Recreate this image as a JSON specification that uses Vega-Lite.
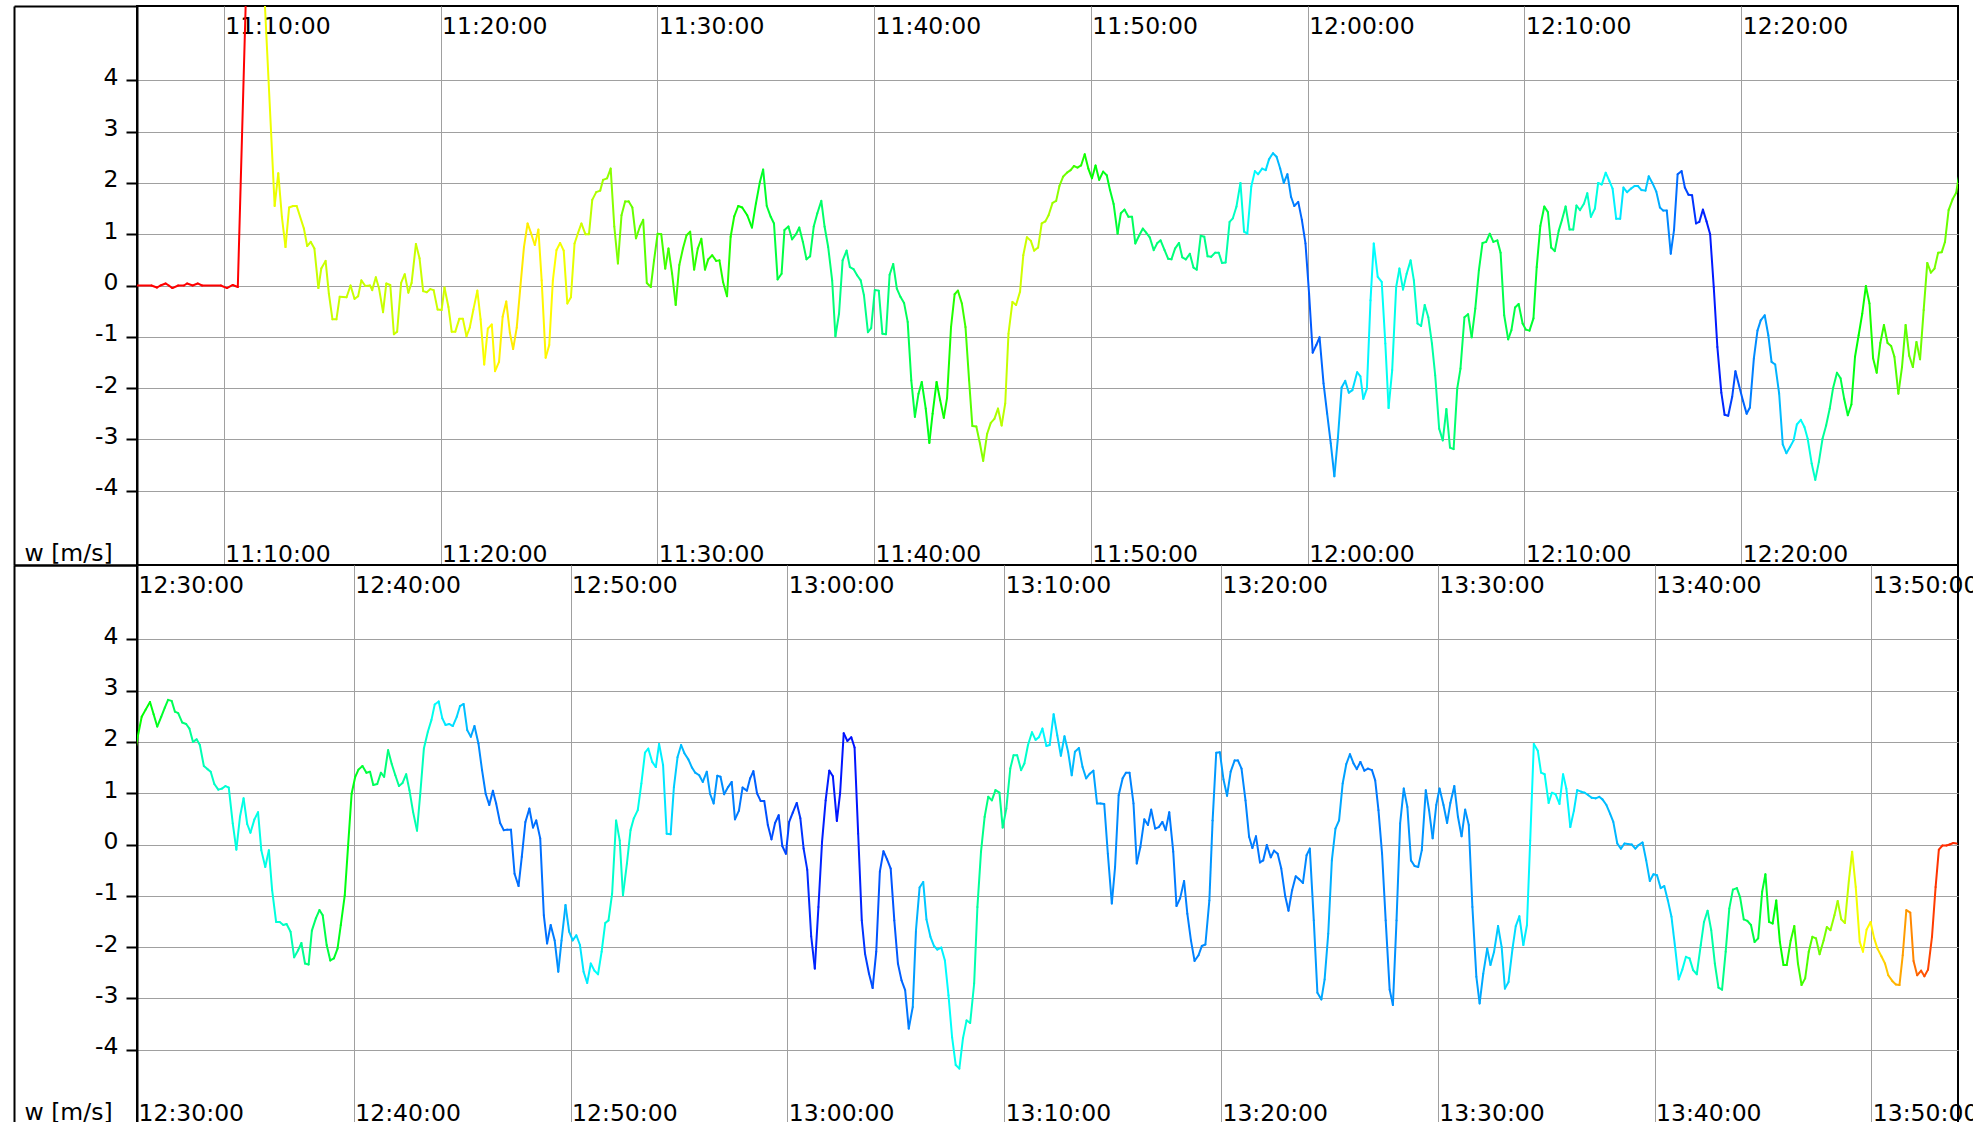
{
"$schema": "https://vega.github.io/schema/vega-lite/v6.json",
"padding": {"left": 12, "top": 4, "right": 0, "bottom": 0},
"autosize": {"type": "pad"},
"background": "white",
"config": {
  "font": "DejaVu Sans",
  "view": {"stroke": "black", "strokeWidth": 2},
  "concat": {"spacing": 0}
},
"data": {"format": {"parse": {"t": "date:'%H:%M:%S'"}}, "values": [
{"t":"11:06:00","w":0,"h":0},{"t":"11:06:40","w":0,"h":0},{"t":"11:06:55","w":-0.04,"h":0},{"t":"11:07:05","w":0,"h":0},{"t":"11:07:19","w":0.04,"h":0},{"t":"11:07:28","w":0,"h":0},{"t":"11:07:38","w":-0.05,"h":0},{"t":"11:07:54","w":0,"h":0},{"t":"11:08:10","w":0,"h":0},{"t":"11:08:19","w":0.04,"h":0},{"t":"11:08:34","w":0,"h":0},{"t":"11:08:48","w":0.04,"h":0},{"t":"11:09:00","w":0,"h":0},{"t":"11:09:52","w":0,"h":0},{"t":"11:10:09","w":-0.05,"h":0},{"t":"11:10:25","w":0.01,"h":0},{"t":"11:10:39","w":-0.03,"h":0},{"t":"11:11:10","w":7.8,"h":30},{"t":"11:11:40","w":7.5,"h":64},
{"t":"11:12:21","w":1.55,"h":65},{"t":"11:12:31","w":2.19,"h":65},{"t":"11:12:41","w":1.34,"h":65},{"t":"11:12:51","w":0.75,"h":65},{"t":"11:13:01","w":1.52,"h":66},{"t":"11:13:12","w":1.55,"h":67},{"t":"11:13:22","w":1.55,"h":68},{"t":"11:13:42","w":1.11,"h":70},{"t":"11:13:51","w":0.77,"h":72},{"t":"11:14:01","w":0.85,"h":73},{"t":"11:14:11","w":0.72,"h":73},{"t":"11:14:22","w":-0.05,"h":73},{"t":"11:14:30","w":0.33,"h":73},{"t":"11:14:42","w":0.48,"h":73},{"t":"11:14:51","w":-0.16,"h":73},{"t":"11:15:01","w":-0.66,"h":73},{"t":"11:15:12","w":-0.66,"h":73},{"t":"11:15:21","w":-0.22,"h":73},{"t":"11:15:40","w":-0.23,"h":73},{"t":"11:15:51","w":0,"h":73},{"t":"11:16:02","w":-0.26,"h":73},{"t":"11:16:12","w":-0.21,"h":73},{"t":"11:16:21","w":0.1,"h":73},{"t":"11:16:32","w":-0.01,"h":73},{"t":"11:16:45","w":0,"h":73},{"t":"11:16:51","w":-0.09,"h":73},{"t":"11:17:01","w":0.16,"h":73},{"t":"11:17:10","w":-0.06,"h":73},{"t":"11:17:21","w":-0.52,"h":73},{"t":"11:17:30","w":0.04,"h":73},{"t":"11:17:41","w":0.01,"h":73},{"t":"11:17:51","w":-0.95,"h":73},{"t":"11:18:00","w":-0.9,"h":73},{"t":"11:18:11","w":0.05,"h":73},{"t":"11:18:21","w":0.22,"h":73},{"t":"11:18:31","w":-0.14,"h":73},{"t":"11:18:40","w":0.05,"h":73},{"t":"11:18:52","w":0.81,"h":73},{"t":"11:19:02","w":0.53,"h":73},{"t":"11:19:12","w":-0.11,"h":73},{"t":"11:19:22","w":-0.13,"h":73},{"t":"11:19:32","w":-0.07,"h":73},{"t":"11:19:41","w":-0.09,"h":72},{"t":"11:19:52","w":-0.47,"h":72},{"t":"11:20:03","w":-0.48,"h":71},{"t":"11:20:11","w":-0.04,"h":70},{"t":"11:20:22","w":-0.42,"h":70},{"t":"11:20:31","w":-0.9,"h":69},{"t":"11:20:41","w":-0.9,"h":68},{"t":"11:20:52","w":-0.65,"h":68},{"t":"11:21:02","w":-0.65,"h":67},{"t":"11:21:12","w":-0.99,"h":66},{"t":"11:21:21","w":-0.82,"h":65},{"t":"11:21:31","w":-0.47,"h":64},{"t":"11:21:42","w":-0.1,"h":63},{"t":"11:21:51","w":-0.66,"h":62},{"t":"11:22:01","w":-1.54,"h":61},{"t":"11:22:11","w":-0.84,"h":60},{"t":"11:22:22","w":-0.76,"h":59},{"t":"11:22:31","w":-1.67,"h":58},{"t":"11:22:42","w":-1.49,"h":57},{"t":"11:22:52","w":-0.61,"h":56},{"t":"11:23:02","w":-0.31,"h":56},{"t":"11:23:12","w":-0.92,"h":56},{"t":"11:23:21","w":-1.24,"h":55},{"t":"11:23:31","w":-0.82,"h":55},{"t":"11:23:41","w":-0.03,"h":55},{"t":"11:23:51","w":0.75,"h":56},{"t":"11:24:01","w":1.21,"h":56},{"t":"11:24:10","w":1.03,"h":57},{"t":"11:24:21","w":0.79,"h":57},{"t":"11:24:31","w":1.09,"h":58},{"t":"11:24:40","w":0.1,"h":58},{"t":"11:24:51","w":-1.41,"h":58},{"t":"11:25:01","w":-1.16,"h":59},{"t":"11:25:11","w":0.1,"h":60},{"t":"11:25:21","w":0.69,"h":62},{"t":"11:25:31","w":0.83,"h":63},{"t":"11:25:41","w":0.68,"h":64},{"t":"11:25:51","w":-0.35,"h":65},{"t":"11:26:01","w":-0.23,"h":66},{"t":"11:26:11","w":0.82,"h":68},{"t":"11:26:20","w":1.01,"h":70},{"t":"11:26:30","w":1.21,"h":72},{"t":"11:26:41","w":1,"h":74},{"t":"11:26:51","w":1,"h":76},{"t":"11:27:00","w":1.67,"h":78},{"t":"11:27:11","w":1.82,"h":80},{"t":"11:27:22","w":1.85,"h":82},{"t":"11:27:30","w":2.06,"h":84},{"t":"11:27:41","w":2.09,"h":86},{"t":"11:27:51","w":2.28,"h":88},{"t":"11:28:01","w":1.15,"h":90},{"t":"11:28:11","w":0.43,"h":92},{"t":"11:28:21","w":1.37,"h":93},{"t":"11:28:31","w":1.64,"h":94},{"t":"11:28:41","w":1.64,"h":95},{"t":"11:28:51","w":1.52,"h":96},{"t":"11:29:01","w":0.92,"h":97},{"t":"11:29:12","w":1.15,"h":98},{"t":"11:29:21","w":1.28,"h":99},{"t":"11:29:31","w":0.05,"h":100},{"t":"11:29:42","w":-0.03,"h":101},{"t":"11:29:51","w":0.49,"h":102},{"t":"11:30:01","w":1.01,"h":103},{"t":"11:30:11","w":1,"h":104},{"t":"11:30:22","w":0.33,"h":105},{"t":"11:30:31","w":0.72,"h":106},{"t":"11:30:41","w":0.23,"h":106},{"t":"11:30:51","w":-0.38,"h":107},{"t":"11:31:01","w":0.4,"h":107},{"t":"11:31:11","w":0.72,"h":108},{"t":"11:31:21","w":0.98,"h":108},{"t":"11:31:31","w":1.05,"h":109},{"t":"11:31:42","w":0.31,"h":110},{"t":"11:31:52","w":0.72,"h":110},{"t":"11:32:02","w":0.91,"h":111},{"t":"11:32:12","w":0.31,"h":111},{"t":"11:32:21","w":0.51,"h":112},{"t":"11:32:32","w":0.59,"h":112},{"t":"11:32:43","w":0.48,"h":112},{"t":"11:32:52","w":0.49,"h":112},{"t":"11:33:02","w":0.07,"h":112},{"t":"11:33:13","w":-0.21,"h":112},{"t":"11:33:23","w":0.95,"h":114},{"t":"11:33:33","w":1.35,"h":116},{"t":"11:33:44","w":1.55,"h":118},{"t":"11:33:55","w":1.52,"h":120},{"t":"11:34:09","w":1.37,"h":122},
{"t":"11:34:22","w":1.13,"h":124},{"t":"11:34:33","w":1.6,"h":126},{"t":"11:34:44","w":2.02,"h":128},{"t":"11:34:53","w":2.26,"h":130},{"t":"11:35:03","w":1.55,"h":132},{"t":"11:35:14","w":1.34,"h":133},{"t":"11:35:23","w":1.21,"h":134},{"t":"11:35:33","w":0.12,"h":135},{"t":"11:35:44","w":0.23,"h":136},{"t":"11:35:52","w":1.08,"h":137},{"t":"11:36:03","w":1.15,"h":138},{"t":"11:36:13","w":0.9,"h":139},{"t":"11:36:24","w":1,"h":140},{"t":"11:36:33","w":1.13,"h":140},{"t":"11:36:43","w":0.85,"h":141},{"t":"11:36:53","w":0.51,"h":141},{"t":"11:37:03","w":0.57,"h":142},{"t":"11:37:13","w":1.15,"h":143},{"t":"11:37:23","w":1.41,"h":144},{"t":"11:37:34","w":1.65,"h":145},{"t":"11:37:43","w":1.15,"h":146},{"t":"11:37:53","w":0.75,"h":147},{"t":"11:38:04","w":0.1,"h":148},{"t":"11:38:13","w":-0.99,"h":150},{"t":"11:38:23","w":-0.55,"h":151},{"t":"11:38:33","w":0.49,"h":152},{"t":"11:38:44","w":0.68,"h":152},{"t":"11:38:53","w":0.36,"h":152},{"t":"11:39:03","w":0.32,"h":152},{"t":"11:39:13","w":0.2,"h":152},{"t":"11:39:23","w":0.1,"h":152},{"t":"11:39:32","w":-0.19,"h":152},{"t":"11:39:43","w":-0.91,"h":152},{"t":"11:39:52","w":-0.83,"h":151},{"t":"11:40:02","w":-0.09,"h":150},{"t":"11:40:13","w":-0.1,"h":150},{"t":"11:40:23","w":-0.94,"h":149},{"t":"11:40:33","w":-0.95,"h":148},{"t":"11:40:43","w":0.21,"h":147},{"t":"11:40:53","w":0.42,"h":146},{"t":"11:41:03","w":-0.06,"h":145},{"t":"11:41:13","w":-0.22,"h":143},{"t":"11:41:23","w":-0.34,"h":141},{"t":"11:41:33","w":-0.71,"h":139},{"t":"11:41:43","w":-1.85,"h":136},{"t":"11:41:53","w":-2.56,"h":133},{"t":"11:42:03","w":-2.11,"h":130},{"t":"11:42:12","w":-1.88,"h":128},{"t":"11:42:23","w":-2.4,"h":126},{"t":"11:42:33","w":-3.07,"h":124},{"t":"11:42:42","w":-2.5,"h":122},{"t":"11:42:53","w":-1.88,"h":120},{"t":"11:43:03","w":-2.24,"h":118},{"t":"11:43:13","w":-2.58,"h":116},{"t":"11:43:22","w":-2.19,"h":114},{"t":"11:43:33","w":-0.81,"h":112},{"t":"11:43:43","w":-0.17,"h":110},{"t":"11:43:52","w":-0.1,"h":108},{"t":"11:44:03","w":-0.35,"h":106},{"t":"11:44:13","w":-0.81,"h":104},{"t":"11:44:23","w":-1.85,"h":100},{"t":"11:44:32","w":-2.74,"h":96},{"t":"11:44:43","w":-2.75,"h":92},{"t":"11:44:53","w":-3.08,"h":89},{"t":"11:45:02","w":-3.42,"h":86},{"t":"11:45:13","w":-2.89,"h":84},{"t":"11:45:23","w":-2.68,"h":82},{"t":"11:45:33","w":-2.6,"h":80},{"t":"11:45:43","w":-2.4,"h":78},{"t":"11:45:53","w":-2.73,"h":76},{"t":"11:46:03","w":-2.3,"h":74},{"t":"11:46:12","w":-0.94,"h":72},{"t":"11:46:23","w":-0.32,"h":71},{"t":"11:46:33","w":-0.38,"h":71},{"t":"11:46:44","w":-0.12,"h":71},{"t":"11:46:53","w":0.59,"h":72},{"t":"11:47:03","w":0.94,"h":72},{"t":"11:47:14","w":0.87,"h":73},{"t":"11:47:23","w":0.68,"h":74},{"t":"11:47:34","w":0.74,"h":75},{"t":"11:47:44","w":1.21,"h":77},{"t":"11:47:54","w":1.25,"h":79},{"t":"11:48:03","w":1.37,"h":81},{"t":"11:48:14","w":1.61,"h":84},{"t":"11:48:24","w":1.65,"h":87},{"t":"11:48:33","w":1.94,"h":90},{"t":"11:48:43","w":2.12,"h":94},{"t":"11:48:54","w":2.2,"h":98},{"t":"11:49:04","w":2.25,"h":102},{"t":"11:49:13","w":2.33,"h":106},{"t":"11:49:23","w":2.3,"h":110},{"t":"11:49:33","w":2.34,"h":113},{"t":"11:49:43","w":2.56,"h":116},{"t":"11:49:53","w":2.28,"h":118},{"t":"11:50:03","w":2.09,"h":120},{"t":"11:50:13","w":2.34,"h":122},{"t":"11:50:23","w":2.06,"h":124},{"t":"11:50:34","w":2.22,"h":126},{"t":"11:50:44","w":2.15,"h":128},{"t":"11:50:53","w":1.86,"h":130},{"t":"11:51:03","w":1.59,"h":132},{"t":"11:51:14","w":1.01,"h":134},{"t":"11:51:23","w":1.41,"h":136},{"t":"11:51:33","w":1.48,"h":138},{"t":"11:51:44","w":1.34,"h":140},{"t":"11:51:54","w":1.34,"h":142},{"t":"11:52:03","w":0.82,"h":143},{"t":"11:52:14","w":0.98,"h":144},{"t":"11:52:24","w":1.11,"h":145},{"t":"11:52:33","w":1.03,"h":146},{"t":"11:52:43","w":0.94,"h":147},{"t":"11:52:54","w":0.69,"h":148},{"t":"11:53:04","w":0.83,"h":148},{"t":"11:53:13","w":0.88,"h":148},{"t":"11:53:24","w":0.69,"h":148},{"t":"11:53:34","w":0.52,"h":148},{"t":"11:53:43","w":0.51,"h":148},{"t":"11:53:53","w":0.72,"h":148},{"t":"11:54:04","w":0.83,"h":149},{"t":"11:54:13","w":0.55,"h":149},{"t":"11:54:23","w":0.51,"h":149},{"t":"11:54:34","w":0.62,"h":150},{"t":"11:54:44","w":0.35,"h":150},{"t":"11:54:53","w":0.31,"h":150},{"t":"11:55:04","w":0.97,"h":151},{"t":"11:55:14","w":0.95,"h":152},{"t":"11:55:23","w":0.57,"h":153},{"t":"11:55:33","w":0.56,"h":154},{"t":"11:55:44","w":0.64,"h":155},{"t":"11:55:54","w":0.64,"h":156},{"t":"11:56:03","w":0.44,"h":158},{"t":"11:56:13","w":0.45,"h":160},{"t":"11:56:24","w":1.24,"h":163},{"t":"11:56:33","w":1.31,"h":166},{"t":"11:56:43","w":1.54,"h":169},{"t":"11:56:54","w":2,"h":172},{"t":"11:57:04","w":1.05,"h":175},{"t":"11:57:13","w":1.01,"h":177},{"t":"11:57:24","w":1.93,"h":179},{"t":"11:57:34","w":2.23,"h":181},{"t":"11:57:43","w":2.17,"h":183},{"t":"11:57:54","w":2.28,"h":185},{"t":"11:58:04","w":2.25,"h":188},{"t":"11:58:13","w":2.46,"h":191},{"t":"11:58:24","w":2.58,"h":194},{"t":"11:58:34","w":2.51,"h":197},{"t":"11:58:44","w":2.28,"h":200},{"t":"11:58:54","w":2,"h":203},{"t":"11:59:04","w":2.17,"h":206},{"t":"11:59:14","w":1.73,"h":209},{"t":"11:59:23","w":1.55,"h":212},{"t":"11:59:34","w":1.63,"h":215},{"t":"11:59:44","w":1.28,"h":217},{"t":"11:59:54","w":0.82,"h":218},{"t":"12:00:04","w":-0.16,"h":219},{"t":"12:00:14","w":-1.31,"h":219},{"t":"12:00:24","w":-1.16,"h":218},{"t":"12:00:33","w":-1.01,"h":216},{"t":"12:00:44","w":-1.91,"h":212},{"t":"12:00:54","w":-2.5,"h":208},{"t":"12:01:04","w":-3.08,"h":204},{"t":"12:01:14","w":-3.72,"h":200},{"t":"12:01:24","w":-2.95,"h":197},{"t":"12:01:34","w":-1.99,"h":195},{"t":"12:01:44","w":-1.86,"h":192},{"t":"12:01:54","w":-2.09,"h":190},{"t":"12:02:04","w":-2.04,"h":188},{"t":"12:02:17","w":-1.69,"h":186},
{"t":"12:02:26","w":-1.77,"h":184},{"t":"12:02:34","w":-2.21,"h":183},{"t":"12:02:44","w":-2.01,"h":182},{"t":"12:02:54","w":-0.29,"h":181},{"t":"12:03:03","w":0.82,"h":180},{"t":"12:03:14","w":0.17,"h":179},{"t":"12:03:25","w":0.07,"h":178},{"t":"12:03:35","w":-1.13,"h":177},{"t":"12:03:44","w":-2.39,"h":176},{"t":"12:03:54","w":-1.65,"h":175},{"t":"12:04:05","w":-0.03,"h":174},{"t":"12:04:14","w":0.33,"h":173},{"t":"12:04:24","w":-0.08,"h":172},{"t":"12:04:34","w":0.23,"h":171},{"t":"12:04:45","w":0.49,"h":170},{"t":"12:04:54","w":0.1,"h":168},{"t":"12:05:04","w":-0.74,"h":166},{"t":"12:05:14","w":-0.79,"h":164},{"t":"12:05:24","w":-0.38,"h":162},{"t":"12:05:34","w":-0.62,"h":160},{"t":"12:05:44","w":-1.13,"h":158},{"t":"12:05:53","w":-1.75,"h":156},{"t":"12:06:04","w":-2.79,"h":154},{"t":"12:06:14","w":-3.02,"h":152},{"t":"12:06:24","w":-2.41,"h":150},{"t":"12:06:34","w":-3.16,"h":148},{"t":"12:06:44","w":-3.19,"h":146},{"t":"12:06:54","w":-2.01,"h":144},{"t":"12:07:03","w":-1.62,"h":142},{"t":"12:07:14","w":-0.62,"h":140},{"t":"12:07:24","w":-0.56,"h":139},{"t":"12:07:34","w":-1.01,"h":138},{"t":"12:07:44","w":-0.45,"h":138},{"t":"12:07:54","w":0.3,"h":138},{"t":"12:08:04","w":0.83,"h":138},{"t":"12:08:14","w":0.85,"h":138},{"t":"12:08:24","w":1.01,"h":138},{"t":"12:08:34","w":0.85,"h":138},{"t":"12:08:45","w":0.88,"h":138},{"t":"12:08:54","w":0.64,"h":138},{"t":"12:09:04","w":-0.58,"h":138},{"t":"12:09:15","w":-1.05,"h":137},{"t":"12:09:24","w":-0.87,"h":136},{"t":"12:09:34","w":-0.43,"h":135},{"t":"12:09:44","w":-0.36,"h":134},{"t":"12:09:55","w":-0.74,"h":133},{"t":"12:10:04","w":-0.86,"h":132},{"t":"12:10:14","w":-0.88,"h":131},{"t":"12:10:25","w":-0.64,"h":130},{"t":"12:10:34","w":0.36,"h":130},{"t":"12:10:44","w":1.16,"h":131},{"t":"12:10:55","w":1.54,"h":133},{"t":"12:11:05","w":1.43,"h":135},{"t":"12:11:14","w":0.74,"h":138},{"t":"12:11:24","w":0.67,"h":141},{"t":"12:11:35","w":1.07,"h":144},{"t":"12:11:44","w":1.28,"h":147},{"t":"12:11:54","w":1.54,"h":150},{"t":"12:12:05","w":1.09,"h":153},{"t":"12:12:15","w":1.09,"h":156},{"t":"12:12:24","w":1.56,"h":159},{"t":"12:12:34","w":1.47,"h":162},{"t":"12:12:45","w":1.6,"h":165},{"t":"12:12:54","w":1.8,"h":168},{"t":"12:13:04","w":1.34,"h":171},{"t":"12:13:15","w":1.5,"h":173},{"t":"12:13:24","w":2,"h":175},{"t":"12:13:34","w":1.97,"h":177},{"t":"12:13:45","w":2.2,"h":179},{"t":"12:13:55","w":2.04,"h":181},{"t":"12:14:04","w":1.89,"h":183},{"t":"12:14:14","w":1.3,"h":185},{"t":"12:14:25","w":1.3,"h":186},{"t":"12:14:34","w":1.91,"h":187},{"t":"12:14:44","w":1.82,"h":188},{"t":"12:14:55","w":1.89,"h":189},{"t":"12:15:05","w":1.94,"h":190},{"t":"12:15:14","w":1.94,"h":191},{"t":"12:15:24","w":1.86,"h":192},{"t":"12:15:35","w":1.85,"h":193},{"t":"12:15:44","w":2.13,"h":195},{"t":"12:15:54","w":2,"h":197},{"t":"12:16:05","w":1.83,"h":199},{"t":"12:16:15","w":1.52,"h":202},{"t":"12:16:24","w":1.46,"h":205},{"t":"12:16:34","w":1.46,"h":208},{"t":"12:16:45","w":0.62,"h":211},{"t":"12:16:54","w":1.08,"h":214},{"t":"12:17:04","w":2.17,"h":217},{"t":"12:17:15","w":2.23,"h":220},{"t":"12:17:24","w":1.91,"h":223},{"t":"12:17:34","w":1.77,"h":226},{"t":"12:17:44","w":1.76,"h":228},{"t":"12:17:55","w":1.21,"h":230},{"t":"12:18:04","w":1.24,"h":231},{"t":"12:18:14","w":1.48,"h":232},{"t":"12:18:24","w":1.25,"h":233},{"t":"12:18:34","w":1,"h":234},{"t":"12:18:44","w":-0.03,"h":234},{"t":"12:18:54","w":-1.2,"h":233},{"t":"12:19:05","w":-2.09,"h":231},{"t":"12:19:14","w":-2.52,"h":228},{"t":"12:19:24","w":-2.54,"h":225},{"t":"12:19:35","w":-2.17,"h":222},{"t":"12:19:44","w":-1.67,"h":220},{"t":"12:19:54","w":-1.95,"h":218},{"t":"12:20:05","w":-2.25,"h":216},{"t":"12:20:15","w":-2.5,"h":213},{"t":"12:20:24","w":-2.38,"h":210},{"t":"12:20:35","w":-1.42,"h":207},{"t":"12:20:45","w":-0.88,"h":205},{"t":"12:20:54","w":-0.68,"h":204},{"t":"12:21:05","w":-0.58,"h":203},{"t":"12:21:15","w":-0.97,"h":202},{"t":"12:21:24","w":-1.49,"h":200},{"t":"12:21:34","w":-1.54,"h":198},{"t":"12:21:45","w":-2.11,"h":196},{"t":"12:21:55","w":-3.1,"h":193},{"t":"12:22:05","w":-3.27,"h":190},{"t":"12:22:15","w":-3.15,"h":187},{"t":"12:22:25","w":-3.02,"h":184},{"t":"12:22:34","w":-2.71,"h":181},{"t":"12:22:45","w":-2.62,"h":178},{"t":"12:22:55","w":-2.76,"h":175},{"t":"12:23:04","w":-2.99,"h":172},{"t":"12:23:15","w":-3.47,"h":168},{"t":"12:23:25","w":-3.79,"h":164},{"t":"12:23:35","w":-3.44,"h":160},{"t":"12:23:45","w":-2.99,"h":156},{"t":"12:23:55","w":-2.73,"h":152},{"t":"12:24:05","w":-2.4,"h":148},{"t":"12:24:14","w":-2.01,"h":144},{"t":"12:24:25","w":-1.7,"h":140},{"t":"12:24:35","w":-1.81,"h":136},{"t":"12:24:45","w":-2.21,"h":132},{"t":"12:24:55","w":-2.53,"h":128},{"t":"12:25:05","w":-2.32,"h":125},{"t":"12:25:15","w":-1.39,"h":122},{"t":"12:25:25","w":-0.97,"h":120},{"t":"12:25:35","w":-0.55,"h":118},{"t":"12:25:45","w":-0.01,"h":116},{"t":"12:25:55","w":-0.35,"h":114},{"t":"12:26:05","w":-1.42,"h":112},{"t":"12:26:15","w":-1.7,"h":110},{"t":"12:26:25","w":-1.12,"h":108},{"t":"12:26:35","w":-0.77,"h":106},{"t":"12:26:45","w":-1.12,"h":104},{"t":"12:26:55","w":-1.18,"h":102},{"t":"12:27:04","w":-1.39,"h":101},{"t":"12:27:15","w":-2.11,"h":100},{"t":"12:27:25","w":-1.59,"h":99},{"t":"12:27:35","w":-0.77,"h":98},{"t":"12:27:45","w":-1.37,"h":97},{"t":"12:27:55","w":-1.59,"h":96},{"t":"12:28:05","w":-1.1,"h":95},{"t":"12:28:15","w":-1.44,"h":94},{"t":"12:28:25","w":-0.48,"h":93},{"t":"12:28:35","w":0.44,"h":92},{"t":"12:28:45","w":0.25,"h":92},{"t":"12:28:55","w":0.33,"h":92},{"t":"12:29:05","w":0.64,"h":93},{"t":"12:29:15","w":0.65,"h":94},{"t":"12:29:24","w":0.85,"h":95},{"t":"12:29:34","w":1.47,"h":96},{"t":"12:29:45","w":1.68,"h":98},{"t":"12:29:55","w":1.81,"h":100},
{"t":"12:30:00","w":2.03,"h":118},{"t":"12:30:13","w":2.49,"h":120},{"t":"12:30:24","w":2.63,"h":122},{"t":"12:30:36","w":2.78,"h":124},{"t":"12:30:46","w":2.54,"h":126},{"t":"12:30:56","w":2.3,"h":128},{"t":"12:31:07","w":2.49,"h":131},{"t":"12:31:17","w":2.67,"h":134},{"t":"12:31:26","w":2.82,"h":137},{"t":"12:31:36","w":2.8,"h":140},{"t":"12:31:45","w":2.59,"h":143},{"t":"12:31:54","w":2.56,"h":146},{"t":"12:32:05","w":2.38,"h":149},{"t":"12:32:16","w":2.35,"h":152},{"t":"12:32:25","w":2.26,"h":155},{"t":"12:32:35","w":2,"h":158},{"t":"12:32:45","w":2.05,"h":160},{"t":"12:32:54","w":1.94,"h":162},{"t":"12:33:05","w":1.53,"h":164},{"t":"12:33:15","w":1.47,"h":165},{"t":"12:33:24","w":1.42,"h":166},{"t":"12:33:34","w":1.18,"h":167},{"t":"12:33:45","w":1.07,"h":168},{"t":"12:33:55","w":1.09,"h":169},{"t":"12:34:05","w":1.14,"h":170},{"t":"12:34:14","w":1.11,"h":171},{"t":"12:34:25","w":0.41,"h":172},{"t":"12:34:35","w":-0.1,"h":173},{"t":"12:34:45","w":0.54,"h":174},{"t":"12:34:55","w":0.9,"h":174},{"t":"12:35:05","w":0.4,"h":174},{"t":"12:35:14","w":0.23,"h":174},{"t":"12:35:25","w":0.49,"h":174},{"t":"12:35:35","w":0.63,"h":174},{"t":"12:35:44","w":-0.11,"h":174},{"t":"12:35:55","w":-0.44,"h":174},{"t":"12:36:05","w":-0.11,"h":173},{"t":"12:36:14","w":-0.89,"h":172},{"t":"12:36:25","w":-1.51,"h":170},{"t":"12:36:35","w":-1.51,"h":168},{"t":"12:36:45","w":-1.57,"h":166},{"t":"12:36:54","w":-1.55,"h":164},{"t":"12:37:05","w":-1.7,"h":162},{"t":"12:37:15","w":-2.2,"h":160},{"t":"12:37:26","w":-2.06,"h":157},{"t":"12:37:35","w":-1.92,"h":154},{"t":"12:37:45","w":-2.32,"h":151},{"t":"12:37:55","w":-2.34,"h":148},{"t":"12:38:04","w":-1.68,"h":145},{"t":"12:38:15","w":-1.44,"h":142},{"t":"12:38:25","w":-1.28,"h":139},{"t":"12:38:34","w":-1.38,"h":137},{"t":"12:38:45","w":-1.96,"h":135},{"t":"12:38:55","w":-2.26,"h":132},{"t":"12:39:05","w":-2.22,"h":129},{"t":"12:39:15","w":-2.03,"h":127},{"t":"12:39:24","w":-1.57,"h":125},{"t":"12:39:35","w":-0.99,"h":124},{"t":"12:39:44","w":-0.05,"h":124},{"t":"12:39:54","w":0.99,"h":125},{"t":"12:40:04","w":1.32,"h":127},{"t":"12:40:13","w":1.46,"h":130},{"t":"12:40:24","w":1.53,"h":133},{"t":"12:40:35","w":1.4,"h":136},{"t":"12:40:45","w":1.42,"h":139},{"t":"12:40:54","w":1.16,"h":142},{"t":"12:41:05","w":1.18,"h":144},{"t":"12:41:15","w":1.4,"h":146},{"t":"12:41:24","w":1.32,"h":148},{"t":"12:41:35","w":1.84,"h":150},{"t":"12:41:45","w":1.57,"h":152},{"t":"12:41:55","w":1.35,"h":154},{"t":"12:42:05","w":1.14,"h":156},{"t":"12:42:15","w":1.2,"h":158},{"t":"12:42:25","w":1.37,"h":159},{"t":"12:42:34","w":1.06,"h":160},{"t":"12:42:44","w":0.64,"h":161},{"t":"12:42:55","w":0.27,"h":162},{"t":"12:43:04","w":0.99,"h":164},{"t":"12:43:14","w":1.87,"h":168},{"t":"12:43:25","w":2.2,"h":172},{"t":"12:43:35","w":2.43,"h":176},{"t":"12:43:44","w":2.73,"h":180},{"t":"12:43:55","w":2.79,"h":183},{"t":"12:44:05","w":2.46,"h":185},{"t":"12:44:14","w":2.33,"h":186},{"t":"12:44:24","w":2.35,"h":187},{"t":"12:44:34","w":2.31,"h":188},{"t":"12:44:45","w":2.49,"h":190},{"t":"12:44:54","w":2.7,"h":192},{"t":"12:45:04","w":2.74,"h":195},{"t":"12:45:14","w":2.23,"h":198},{"t":"12:45:24","w":2.1,"h":201},{"t":"12:45:34","w":2.31,"h":204},{"t":"12:45:45","w":1.97,"h":207},{"t":"12:45:55","w":1.45,"h":210},{"t":"12:46:05","w":0.99,"h":212},{"t":"12:46:15","w":0.77,"h":213},{"t":"12:46:25","w":1.05,"h":214},{"t":"12:46:34","w":0.8,"h":214},{"t":"12:46:45","w":0.42,"h":214},{"t":"12:46:55","w":0.28,"h":214},{"t":"12:47:04","w":0.29,"h":214},{"t":"12:47:15","w":0.29,"h":214},{"t":"12:47:25","w":-0.57,"h":214},{"t":"12:47:36","w":-0.81,"h":214},{"t":"12:47:45","w":-0.24,"h":214},{"t":"12:47:55","w":0.44,"h":214},{"t":"12:48:06","w":0.7,"h":214},{"t":"12:48:16","w":0.33,"h":214},{"t":"12:48:25","w":0.47,"h":214},{"t":"12:48:36","w":0.12,"h":214},{"t":"12:48:46","w":-1.38,"h":214},{"t":"12:48:55","w":-1.93,"h":213},{"t":"12:49:05","w":-1.57,"h":211},{"t":"12:49:16","w":-1.87,"h":208},{"t":"12:49:26","w":-2.48,"h":204},{"t":"12:49:35","w":-1.87,"h":200},{"t":"12:49:46","w":-1.18,"h":196},{"t":"12:49:56","w":-1.7,"h":192},{"t":"12:50:06","w":-1.87,"h":189},{"t":"12:50:16","w":-1.77,"h":187},{"t":"12:50:26","w":-1.96,"h":186},{"t":"12:50:36","w":-2.48,"h":185},{"t":"12:50:46","w":-2.7,"h":184},{"t":"12:50:56","w":-2.32,"h":182},{"t":"12:51:06","w":-2.46,"h":180},{"t":"12:51:16","w":-2.53,"h":177},{"t":"12:51:26","w":-2.09,"h":174},{"t":"12:51:36","w":-1.53,"h":171},{"t":"12:51:45","w":-1.48,"h":169},{"t":"12:51:55","w":-0.96,"h":168},{"t":"12:52:06","w":0.47,"h":168},{"t":"12:52:16","w":0.08,"h":168},{"t":"12:52:25","w":-0.99,"h":168},{"t":"12:52:36","w":-0.37,"h":169},{"t":"12:52:46","w":0.28,"h":171},{"t":"12:52:55","w":0.51,"h":173},{"t":"12:53:06","w":0.67,"h":175},{"t":"12:53:16","w":1.19,"h":177},{"t":"12:53:26","w":1.79,"h":179},{"t":"12:53:35","w":1.87,"h":181},{"t":"12:53:46","w":1.61,"h":182},{"t":"12:53:56","w":1.51,"h":183},{"t":"12:54:05","w":1.96,"h":184},{"t":"12:54:16","w":1.55,"h":186},{"t":"12:54:26","w":0.21,"h":188},{"t":"12:54:37","w":0.2,"h":190},{"t":"12:54:46","w":1.12,"h":192},{"t":"12:54:56","w":1.7,"h":194},{"t":"12:55:06","w":1.94,"h":196},{"t":"12:55:15","w":1.78,"h":197},{"t":"12:55:26","w":1.66,"h":198},{"t":"12:55:36","w":1.5,"h":199},{"t":"12:55:45","w":1.4,"h":200},{"t":"12:55:56","w":1.35,"h":201},{"t":"12:56:06","w":1.22,"h":202},{"t":"12:56:17","w":1.42,"h":203},{"t":"12:56:26","w":0.99,"h":204},{"t":"12:56:36","w":0.8,"h":205},{"t":"12:56:46","w":1.34,"h":206},{"t":"12:56:55","w":1.32,"h":207},{"t":"12:57:05","w":0.98,"h":208},{"t":"12:57:16","w":1.12,"h":209},{"t":"12:57:26","w":1.22,"h":210},{"t":"12:57:35","w":0.49,"h":211},{"t":"12:57:46","w":0.66,"h":212},{"t":"12:57:56","w":1.11,"h":213},{"t":"12:58:08","w":1.05,"h":214},
{"t":"12:58:17","w":1.29,"h":216},{"t":"12:58:26","w":1.43,"h":218},{"t":"12:58:36","w":1,"h":219},{"t":"12:58:46","w":0.85,"h":220},{"t":"12:58:56","w":0.85,"h":221},{"t":"12:59:06","w":0.38,"h":222},{"t":"12:59:16","w":0.1,"h":222},{"t":"12:59:26","w":0.42,"h":222},{"t":"12:59:36","w":0.57,"h":223},{"t":"12:59:46","w":-0.03,"h":223},{"t":"12:59:56","w":-0.18,"h":224},{"t":"13:00:05","w":0.44,"h":225},{"t":"13:00:15","w":0.62,"h":226},{"t":"13:00:26","w":0.81,"h":227},{"t":"13:00:36","w":0.51,"h":228},{"t":"13:00:45","w":-0.08,"h":229},{"t":"13:00:55","w":-0.49,"h":230},{"t":"13:01:06","w":-1.79,"h":231},{"t":"13:01:16","w":-2.42,"h":232},{"t":"13:01:26","w":-1.22,"h":232},{"t":"13:01:36","w":0.05,"h":233},{"t":"13:01:46","w":0.86,"h":233},{"t":"13:01:56","w":1.44,"h":234},{"t":"13:02:06","w":1.33,"h":234},{"t":"13:02:17","w":0.46,"h":235},{"t":"13:02:26","w":1,"h":235},{"t":"13:02:36","w":2.17,"h":236},{"t":"13:02:46","w":2.02,"h":236},{"t":"13:02:57","w":2.09,"h":236},{"t":"13:03:06","w":1.89,"h":235},{"t":"13:03:16","w":0.21,"h":232},{"t":"13:03:26","w":-1.48,"h":228},{"t":"13:03:35","w":-2.13,"h":225},{"t":"13:03:46","w":-2.52,"h":222},{"t":"13:03:56","w":-2.8,"h":221},{"t":"13:04:06","w":-2.09,"h":220},{"t":"13:04:16","w":-0.53,"h":220},{"t":"13:04:26","w":-0.13,"h":220},{"t":"13:04:36","w":-0.29,"h":220},{"t":"13:04:46","w":-0.47,"h":220},{"t":"13:04:56","w":-1.48,"h":219},{"t":"13:05:06","w":-2.32,"h":218},{"t":"13:05:16","w":-2.65,"h":216},{"t":"13:05:26","w":-2.84,"h":213},{"t":"13:05:36","w":-3.59,"h":208},{"t":"13:05:47","w":-3.17,"h":203},{"t":"13:05:56","w":-1.67,"h":198},{"t":"13:06:06","w":-0.84,"h":195},{"t":"13:06:16","w":-0.73,"h":193},{"t":"13:06:25","w":-1.46,"h":191},{"t":"13:06:36","w":-1.8,"h":189},{"t":"13:06:46","w":-1.98,"h":187},{"t":"13:06:55","w":-2.05,"h":185},{"t":"13:07:06","w":-2.01,"h":183},{"t":"13:07:16","w":-2.26,"h":181},{"t":"13:07:26","w":-2.94,"h":179},{"t":"13:07:36","w":-3.76,"h":177},{"t":"13:07:46","w":-4.3,"h":176},{"t":"13:07:56","w":-4.37,"h":175},{"t":"13:08:06","w":-3.78,"h":173},{"t":"13:08:16","w":-3.43,"h":170},{"t":"13:08:26","w":-3.48,"h":166},{"t":"13:08:37","w":-2.71,"h":161},{"t":"13:08:46","w":-1.22,"h":156},{"t":"13:08:56","w":-0.14,"h":152},{"t":"13:09:06","w":0.54,"h":150},{"t":"13:09:16","w":0.93,"h":150},{"t":"13:09:26","w":0.86,"h":150},{"t":"13:09:36","w":1.06,"h":151},{"t":"13:09:47","w":1.01,"h":153},{"t":"13:09:56","w":0.33,"h":155},{"t":"13:10:06","w":0.7,"h":157},{"t":"13:10:17","w":1.48,"h":159},{"t":"13:10:26","w":1.74,"h":161},{"t":"13:10:36","w":1.74,"h":163},{"t":"13:10:47","w":1.45,"h":165},{"t":"13:10:56","w":1.58,"h":168},{"t":"13:11:06","w":1.94,"h":171},{"t":"13:11:17","w":2.19,"h":174},{"t":"13:11:27","w":2.04,"h":177},{"t":"13:11:36","w":2.09,"h":180},{"t":"13:11:46","w":2.26,"h":182},{"t":"13:11:57","w":1.92,"h":184},{"t":"13:12:06","w":1.94,"h":186},{"t":"13:12:17","w":2.54,"h":188},{"t":"13:12:27","w":2.13,"h":190},{"t":"13:12:37","w":1.73,"h":192},{"t":"13:12:47","w":2.11,"h":194},{"t":"13:12:57","w":1.81,"h":195},{"t":"13:13:07","w":1.35,"h":196},{"t":"13:13:16","w":1.81,"h":197},{"t":"13:13:27","w":1.88,"h":198},{"t":"13:13:37","w":1.51,"h":199},{"t":"13:13:47","w":1.29,"h":200},{"t":"13:13:57","w":1.38,"h":201},{"t":"13:14:07","w":1.44,"h":202},{"t":"13:14:17","w":0.8,"h":203},{"t":"13:14:27","w":0.8,"h":204},{"t":"13:14:37","w":0.79,"h":205},{"t":"13:14:47","w":-0.18,"h":206},{"t":"13:14:58","w":-1.15,"h":207},{"t":"13:15:07","w":-0.44,"h":207},{"t":"13:15:17","w":0.96,"h":207},{"t":"13:15:28","w":1.29,"h":208},{"t":"13:15:37","w":1.4,"h":208},{"t":"13:15:47","w":1.4,"h":209},{"t":"13:15:58","w":0.8,"h":209},{"t":"13:16:07","w":-0.37,"h":210},{"t":"13:16:17","w":-0.05,"h":210},{"t":"13:16:28","w":0.49,"h":210},{"t":"13:16:38","w":0.38,"h":211},{"t":"13:16:47","w":0.68,"h":211},{"t":"13:16:58","w":0.31,"h":211},{"t":"13:17:08","w":0.34,"h":211},{"t":"13:17:18","w":0.44,"h":211},{"t":"13:17:27","w":0.28,"h":211},{"t":"13:17:37","w":0.63,"h":211},{"t":"13:17:48","w":-0.14,"h":211},{"t":"13:17:57","w":-1.2,"h":211},{"t":"13:18:07","w":-1.05,"h":210},{"t":"13:18:18","w":-0.71,"h":210},{"t":"13:18:27","w":-1.35,"h":210},{"t":"13:18:37","w":-1.87,"h":210},{"t":"13:18:47","w":-2.27,"h":209},{"t":"13:18:58","w":-2.16,"h":208},{"t":"13:19:07","w":-1.98,"h":207},{"t":"13:19:17","w":-1.95,"h":206},{"t":"13:19:28","w":-1.09,"h":205},{"t":"13:19:37","w":0.47,"h":204},{"t":"13:19:47","w":1.79,"h":203},{"t":"13:19:57","w":1.8,"h":203},{"t":"13:20:07","w":1.27,"h":203},{"t":"13:20:17","w":0.95,"h":204},{"t":"13:20:27","w":1.42,"h":205},{"t":"13:20:38","w":1.64,"h":206},{"t":"13:20:47","w":1.64,"h":207},{"t":"13:20:57","w":1.48,"h":208},{"t":"13:21:08","w":0.86,"h":209},{"t":"13:21:18","w":0.15,"h":210},{"t":"13:21:27","w":-0.07,"h":211},{"t":"13:21:37","w":0.16,"h":212},{"t":"13:21:48","w":-0.35,"h":212},{"t":"13:21:57","w":-0.31,"h":212},{"t":"13:22:07","w":-0.01,"h":212},{"t":"13:22:18","w":-0.25,"h":212},{"t":"13:22:27","w":-0.12,"h":212},{"t":"13:22:37","w":-0.18,"h":212},{"t":"13:22:47","w":-0.47,"h":212},{"t":"13:22:58","w":-1.01,"h":212},{"t":"13:23:07","w":-1.29,"h":212},{"t":"13:23:17","w":-0.89,"h":211},{"t":"13:23:27","w":-0.62,"h":210},{"t":"13:23:37","w":-0.68,"h":209},{"t":"13:23:47","w":-0.75,"h":208},{"t":"13:23:57","w":-0.21,"h":207},{"t":"13:24:06","w":-0.08,"h":206},{"t":"13:24:17","w":-1.48,"h":204},{"t":"13:24:27","w":-2.89,"h":202},{"t":"13:24:38","w":-3.02,"h":200},{"t":"13:24:47","w":-2.63,"h":199},{"t":"13:24:57","w":-1.74,"h":199},{"t":"13:25:07","w":-0.31,"h":199},{"t":"13:25:17","w":0.31,"h":200},{"t":"13:25:27","w":0.47,"h":201},{"t":"13:25:37","w":1.19,"h":202},{"t":"13:25:47","w":1.57,"h":204},{"t":"13:25:57","w":1.76,"h":206},{"t":"13:26:07","w":1.58,"h":208},{"t":"13:26:16","w":1.47,"h":210},
{"t":"13:26:26","w":1.61,"h":211},{"t":"13:26:37","w":1.44,"h":212},{"t":"13:26:47","w":1.48,"h":212},{"t":"13:26:58","w":1.45,"h":212},{"t":"13:27:07","w":1.25,"h":211},{"t":"13:27:16","w":0.67,"h":210},{"t":"13:27:26","w":-0.18,"h":209},{"t":"13:27:36","w":-1.48,"h":208},{"t":"13:27:47","w":-2.83,"h":207},{"t":"13:27:56","w":-3.13,"h":206},{"t":"13:28:06","w":-1.48,"h":205},{"t":"13:28:16","w":0.41,"h":205},{"t":"13:28:26","w":1.09,"h":205},{"t":"13:28:36","w":0.73,"h":205},{"t":"13:28:46","w":-0.31,"h":205},{"t":"13:28:56","w":-0.42,"h":205},{"t":"13:29:06","w":-0.44,"h":205},{"t":"13:29:16","w":-0.11,"h":205},{"t":"13:29:27","w":1.06,"h":205},{"t":"13:29:36","w":0.67,"h":205},{"t":"13:29:46","w":0.12,"h":205},{"t":"13:29:56","w":0.77,"h":205},{"t":"13:30:05","w":1.09,"h":205},{"t":"13:30:16","w":0.77,"h":205},{"t":"13:30:26","w":0.42,"h":205},{"t":"13:30:35","w":0.81,"h":205},{"t":"13:30:46","w":1.14,"h":205},{"t":"13:30:56","w":0.54,"h":205},{"t":"13:31:06","w":0.16,"h":205},{"t":"13:31:16","w":0.68,"h":205},{"t":"13:31:26","w":0.38,"h":205},{"t":"13:31:36","w":-1.22,"h":204},{"t":"13:31:47","w":-2.58,"h":202},{"t":"13:31:56","w":-3.1,"h":200},{"t":"13:32:06","w":-2.52,"h":198},{"t":"13:32:17","w":-2.03,"h":196},{"t":"13:32:26","w":-2.35,"h":194},{"t":"13:32:36","w":-2.09,"h":193},{"t":"13:32:47","w":-1.59,"h":192},{"t":"13:32:57","w":-2,"h":191},{"t":"13:33:06","w":-2.81,"h":190},{"t":"13:33:16","w":-2.68,"h":189},{"t":"13:33:27","w":-2.03,"h":188},{"t":"13:33:36","w":-1.59,"h":187},{"t":"13:33:46","w":-1.4,"h":186},{"t":"13:33:57","w":-1.96,"h":184},{"t":"13:34:07","w":-1.57,"h":182},{"t":"13:34:16","w":0.08,"h":180},{"t":"13:34:26","w":1.96,"h":178},{"t":"13:34:37","w":1.83,"h":177},{"t":"13:34:46","w":1.4,"h":177},{"t":"13:34:56","w":1.37,"h":177},{"t":"13:35:07","w":0.81,"h":177},{"t":"13:35:16","w":1.01,"h":178},{"t":"13:35:26","w":0.98,"h":179},{"t":"13:35:37","w":0.79,"h":180},{"t":"13:35:47","w":1.37,"h":181},{"t":"13:35:56","w":1.09,"h":182},{"t":"13:36:07","w":0.34,"h":184},{"t":"13:36:17","w":0.66,"h":186},{"t":"13:36:26","w":1.06,"h":188},{"t":"13:36:37","w":1.03,"h":190},{"t":"13:36:47","w":1.01,"h":191},{"t":"13:36:57","w":0.96,"h":192},{"t":"13:37:06","w":0.91,"h":193},{"t":"13:37:17","w":0.9,"h":194},{"t":"13:37:27","w":0.93,"h":195},{"t":"13:37:36","w":0.88,"h":196},{"t":"13:37:47","w":0.77,"h":196},{"t":"13:37:57","w":0.6,"h":197},{"t":"13:38:06","w":0.44,"h":197},{"t":"13:38:17","w":0.02,"h":197},{"t":"13:38:27","w":-0.08,"h":197},{"t":"13:38:37","w":0.02,"h":197},{"t":"13:38:46","w":0.01,"h":197},{"t":"13:38:57","w":0,"h":197},{"t":"13:39:07","w":-0.08,"h":197},{"t":"13:39:16","w":-0.01,"h":197},{"t":"13:39:27","w":0.04,"h":197},{"t":"13:39:37","w":-0.31,"h":196},{"t":"13:39:47","w":-0.71,"h":196},{"t":"13:39:57","w":-0.58,"h":195},{"t":"13:40:07","w":-0.6,"h":195},{"t":"13:40:17","w":-0.85,"h":194},{"t":"13:40:27","w":-0.81,"h":193},{"t":"13:40:37","w":-1.09,"h":191},{"t":"13:40:47","w":-1.41,"h":188},{"t":"13:40:57","w":-2,"h":184},{"t":"13:41:07","w":-2.63,"h":180},{"t":"13:41:17","w":-2.44,"h":176},{"t":"13:41:27","w":-2.19,"h":173},{"t":"13:41:37","w":-2.22,"h":170},{"t":"13:41:47","w":-2.45,"h":168},{"t":"13:41:57","w":-2.53,"h":166},{"t":"13:42:08","w":-1.96,"h":164},{"t":"13:42:17","w":-1.51,"h":162},{"t":"13:42:27","w":-1.29,"h":160},{"t":"13:42:37","w":-1.67,"h":158},{"t":"13:42:47","w":-2.32,"h":156},{"t":"13:42:57","w":-2.79,"h":154},{"t":"13:43:07","w":-2.83,"h":152},{"t":"13:43:17","w":-2.09,"h":150},{"t":"13:43:27","w":-1.25,"h":148},{"t":"13:43:37","w":-0.88,"h":146},{"t":"13:43:48","w":-0.85,"h":144},{"t":"13:43:57","w":-1.03,"h":142},{"t":"13:44:07","w":-1.46,"h":140},{"t":"13:44:17","w":-1.49,"h":138},{"t":"13:44:27","w":-1.57,"h":136},{"t":"13:44:37","w":-1.9,"h":134},{"t":"13:44:47","w":-1.83,"h":132},{"t":"13:44:58","w":-0.92,"h":130},{"t":"13:45:07","w":-0.58,"h":128},{"t":"13:45:17","w":-1.51,"h":126},{"t":"13:45:27","w":-1.54,"h":124},{"t":"13:45:37","w":-1.09,"h":121},{"t":"13:45:47","w":-1.9,"h":118},{"t":"13:45:57","w":-2.35,"h":115},{"t":"13:46:06","w":-2.35,"h":112},{"t":"13:46:17","w":-1.87,"h":110},{"t":"13:46:27","w":-1.59,"h":108},{"t":"13:46:37","w":-2.32,"h":106},{"t":"13:46:47","w":-2.74,"h":104},{"t":"13:46:57","w":-2.61,"h":102},{"t":"13:47:07","w":-2.09,"h":100},{"t":"13:47:17","w":-1.8,"h":98},{"t":"13:47:27","w":-1.83,"h":96},{"t":"13:47:37","w":-2.14,"h":94},{"t":"13:47:48","w":-1.87,"h":92},{"t":"13:47:57","w":-1.61,"h":89},{"t":"13:48:07","w":-1.67,"h":86},{"t":"13:48:18","w":-1.38,"h":83},{"t":"13:48:27","w":-1.1,"h":80},{"t":"13:48:37","w":-1.46,"h":77},{"t":"13:48:47","w":-1.53,"h":74},{"t":"13:48:58","w":-0.7,"h":70},{"t":"13:49:07","w":-0.14,"h":66},{"t":"13:49:17","w":-0.83,"h":63},{"t":"13:49:28","w":-1.9,"h":61},{"t":"13:49:37","w":-2.09,"h":60},{"t":"13:49:47","w":-1.66,"h":59},{"t":"13:49:58","w":-1.51,"h":58},{"t":"13:50:08","w":-1.83,"h":56},{"t":"13:50:17","w":-2.03,"h":53},{"t":"13:50:28","w":-2.18,"h":50},{"t":"13:50:38","w":-2.32,"h":47},{"t":"13:50:47","w":-2.55,"h":45},{"t":"13:50:58","w":-2.66,"h":43},{"t":"13:51:08","w":-2.73,"h":41},{"t":"13:51:18","w":-2.74,"h":39},{"t":"13:51:27","w":-2.16,"h":37},{"t":"13:51:37","w":-1.28,"h":35},{"t":"13:51:48","w":-1.33,"h":32},{"t":"13:51:57","w":-2.27,"h":26},{"t":"13:52:07","w":-2.55,"h":22},{"t":"13:52:18","w":-2.46,"h":20},{"t":"13:52:27","w":-2.57,"h":18},{"t":"13:52:37","w":-2.44,"h":16},{"t":"13:52:48","w":-1.8,"h":14},{"t":"13:52:58","w":-0.83,"h":12},{"t":"13:53:07","w":-0.1,"h":11},{"t":"13:53:17","w":-0.02,"h":10},{"t":"13:53:28","w":-0.02,"h":10},{"t":"13:53:37","w":0,"h":10},{"t":"13:53:47","w":0.03,"h":10},{"t":"13:53:56","w":0.02,"h":10}
]},
"transform": [
  {"window": [{"op": "lead", "field": "t", "as": "t2"}, {"op": "lead", "field": "w", "as": "w2"}], "sort": [{"field": "t", "order": "ascending"}]},
  {"filter": "datum.t2 != null"}
],
"bounds": "flush",
"spacing": 0,
"vconcat": [
{
  "width": 1821, "height": 559,
  "layer": [
    {
      "mark": {"type": "rule", "clip": true, "strokeWidth": 2, "strokeCap": "round"},
      "encoding": {
        "x": {"field": "t", "type": "temporal", "scale": {"domain": [{"year":1900,"month":1,"date":1,"hours":11,"minutes":6},{"year":1900,"month":1,"date":1,"hours":12,"minutes":30}]},
          "axis": {"orient": "top", "title": null, "format": "%H:%M:%S", "values": [{"year":1900,"month":1,"date":1,"hours":11,"minutes":10},{"year":1900,"month":1,"date":1,"hours":11,"minutes":20},{"year":1900,"month":1,"date":1,"hours":11,"minutes":30},{"year":1900,"month":1,"date":1,"hours":11,"minutes":40},{"year":1900,"month":1,"date":1,"hours":11,"minutes":50},{"year":1900,"month":1,"date":1,"hours":12,"minutes":0},{"year":1900,"month":1,"date":1,"hours":12,"minutes":10},{"year":1900,"month":1,"date":1,"hours":12,"minutes":20}],
            "grid": true, "gridColor": "#a0a0a0", "gridWidth": 1, "ticks": false, "domain": false,
            "labelAlign": "left", "labelBaseline": "alphabetic", "labelPadding": -27, "labelOffset": 1, "labelFlush": false, "labelOverlap": false, "labelBound": false,
            "labelFont": "DejaVu Sans", "labelFontSize": 23.5, "labelColor": "black"}},
        "x2": {"field": "t2"},
        "y": {"field": "w", "type": "quantitative", "scale": {"domain": [-5.45, 5.45], "nice": false, "zero": false},
          "axis": {"orient": "left", "values": [-4,-3,-2,-1,0,1,2,3,4], "labelExpr": "'' + datum.value",
            "grid": true, "gridColor": "#a0a0a0", "gridWidth": 1, "ticks": true, "tickSize": 11, "tickColor": "black", "tickWidth": 2,
            "domain": true, "domainColor": "black", "domainWidth": 2, "labelPadding": 8, "labelOffset": -3, "labelBaseline": "middle",
            "labelFont": "DejaVu Sans", "labelFontSize": 23.5, "labelColor": "black",
            "title": "w [m/s]", "titleAngle": 0, "titleAlign": "left", "titleBaseline": "alphabetic", "titleX": -113, "titleY": 554,
            "titleFont": "DejaVu Sans", "titleFontSize": 23.5, "titleFontWeight": "normal", "titleColor": "black"}},
        "y2": {"field": "w2"},
        "color": {"field": "h", "type": "quantitative", "scale": {"domain": [0, 60, 120, 180, 240], "range": ["#ff0000", "#ffff00", "#00ff00", "#00ffff", "#0000ff"], "interpolate": "rgb"}, "legend": null}
      }
    },
    {
      "mark": {"type": "point", "opacity": 0, "clip": true},
      "encoding": {
        "x": {"field": "t", "type": "temporal", "scale": {"domain": [{"year":1900,"month":1,"date":1,"hours":11,"minutes":6},{"year":1900,"month":1,"date":1,"hours":12,"minutes":30}]},
          "axis": {"orient": "bottom", "title": null, "format": "%H:%M:%S", "values": [{"year":1900,"month":1,"date":1,"hours":11,"minutes":10},{"year":1900,"month":1,"date":1,"hours":11,"minutes":20},{"year":1900,"month":1,"date":1,"hours":11,"minutes":30},{"year":1900,"month":1,"date":1,"hours":11,"minutes":40},{"year":1900,"month":1,"date":1,"hours":11,"minutes":50},{"year":1900,"month":1,"date":1,"hours":12,"minutes":0},{"year":1900,"month":1,"date":1,"hours":12,"minutes":10},{"year":1900,"month":1,"date":1,"hours":12,"minutes":20}],
            "grid": false, "ticks": false, "domain": false,
            "labelAlign": "left", "labelBaseline": "alphabetic", "labelPadding": -4, "labelOffset": 1, "labelFlush": false, "labelOverlap": false, "labelBound": false,
            "labelFont": "DejaVu Sans", "labelFontSize": 23.5, "labelColor": "black"}},
        "y": {"field": "w", "type": "quantitative", "scale": {"domain": [-5.45, 5.45], "nice": false, "zero": false},
          "axis": {"orient": "left", "offset": 123, "values": [-5.45, 5.45], "labels": false, "grid": false, "title": null,
            "ticks": true, "tickSize": -123, "tickColor": "black", "tickWidth": 2,
            "domain": true, "domainColor": "black", "domainWidth": 2}}
      }
    }
  ],
  "resolve": {"axis": {"x": "independent", "y": "independent"}}
},
{
  "width": 1821, "height": 559,
  "layer": [
    {
      "mark": {"type": "rule", "clip": true, "strokeWidth": 2, "strokeCap": "round"},
      "encoding": {
        "x": {"field": "t", "type": "temporal", "scale": {"domain": [{"year":1900,"month":1,"date":1,"hours":12,"minutes":30},{"year":1900,"month":1,"date":1,"hours":13,"minutes":54}]},
          "axis": {"orient": "top", "title": null, "format": "%H:%M:%S", "values": [{"year":1900,"month":1,"date":1,"hours":12,"minutes":30},{"year":1900,"month":1,"date":1,"hours":12,"minutes":40},{"year":1900,"month":1,"date":1,"hours":12,"minutes":50},{"year":1900,"month":1,"date":1,"hours":13,"minutes":0},{"year":1900,"month":1,"date":1,"hours":13,"minutes":10},{"year":1900,"month":1,"date":1,"hours":13,"minutes":20},{"year":1900,"month":1,"date":1,"hours":13,"minutes":30},{"year":1900,"month":1,"date":1,"hours":13,"minutes":40},{"year":1900,"month":1,"date":1,"hours":13,"minutes":50}],
            "grid": true, "gridColor": "#a0a0a0", "gridWidth": 1, "ticks": false, "domain": false,
            "labelAlign": "left", "labelBaseline": "alphabetic", "labelPadding": -27, "labelOffset": 1, "labelFlush": false, "labelOverlap": false, "labelBound": false,
            "labelFont": "DejaVu Sans", "labelFontSize": 23.5, "labelColor": "black"}},
        "x2": {"field": "t2"},
        "y": {"field": "w", "type": "quantitative", "scale": {"domain": [-5.45, 5.45], "nice": false, "zero": false},
          "axis": {"orient": "left", "values": [-4,-3,-2,-1,0,1,2,3,4], "labelExpr": "'' + datum.value",
            "grid": true, "gridColor": "#a0a0a0", "gridWidth": 1, "ticks": true, "tickSize": 11, "tickColor": "black", "tickWidth": 2,
            "domain": true, "domainColor": "black", "domainWidth": 2, "labelPadding": 8, "labelOffset": -3, "labelBaseline": "middle",
            "labelFont": "DejaVu Sans", "labelFontSize": 23.5, "labelColor": "black",
            "title": "w [m/s]", "titleAngle": 0, "titleAlign": "left", "titleBaseline": "alphabetic", "titleX": -113, "titleY": 554,
            "titleFont": "DejaVu Sans", "titleFontSize": 23.5, "titleFontWeight": "normal", "titleColor": "black"}},
        "y2": {"field": "w2"},
        "color": {"field": "h", "type": "quantitative", "scale": {"domain": [0, 60, 120, 180, 240], "range": ["#ff0000", "#ffff00", "#00ff00", "#00ffff", "#0000ff"], "interpolate": "rgb"}, "legend": null}
      }
    },
    {
      "mark": {"type": "point", "opacity": 0, "clip": true},
      "encoding": {
        "x": {"field": "t", "type": "temporal", "scale": {"domain": [{"year":1900,"month":1,"date":1,"hours":12,"minutes":30},{"year":1900,"month":1,"date":1,"hours":13,"minutes":54}]},
          "axis": {"orient": "bottom", "title": null, "format": "%H:%M:%S", "values": [{"year":1900,"month":1,"date":1,"hours":12,"minutes":30},{"year":1900,"month":1,"date":1,"hours":12,"minutes":40},{"year":1900,"month":1,"date":1,"hours":12,"minutes":50},{"year":1900,"month":1,"date":1,"hours":13,"minutes":0},{"year":1900,"month":1,"date":1,"hours":13,"minutes":10},{"year":1900,"month":1,"date":1,"hours":13,"minutes":20},{"year":1900,"month":1,"date":1,"hours":13,"minutes":30},{"year":1900,"month":1,"date":1,"hours":13,"minutes":40},{"year":1900,"month":1,"date":1,"hours":13,"minutes":50}],
            "grid": false, "ticks": false, "domain": false,
            "labelAlign": "left", "labelBaseline": "alphabetic", "labelPadding": -4, "labelOffset": 1, "labelFlush": false, "labelOverlap": false, "labelBound": false,
            "labelFont": "DejaVu Sans", "labelFontSize": 23.5, "labelColor": "black"}},
        "y": {"field": "w", "type": "quantitative", "scale": {"domain": [-5.45, 5.45], "nice": false, "zero": false},
          "axis": {"orient": "left", "offset": 123, "values": [-5.45, 5.45], "labels": false, "grid": false, "title": null,
            "ticks": true, "tickSize": -123, "tickColor": "black", "tickWidth": 2,
            "domain": true, "domainColor": "black", "domainWidth": 2}}
      }
    }
  ],
  "resolve": {"axis": {"x": "independent", "y": "independent"}}
}
]
}
